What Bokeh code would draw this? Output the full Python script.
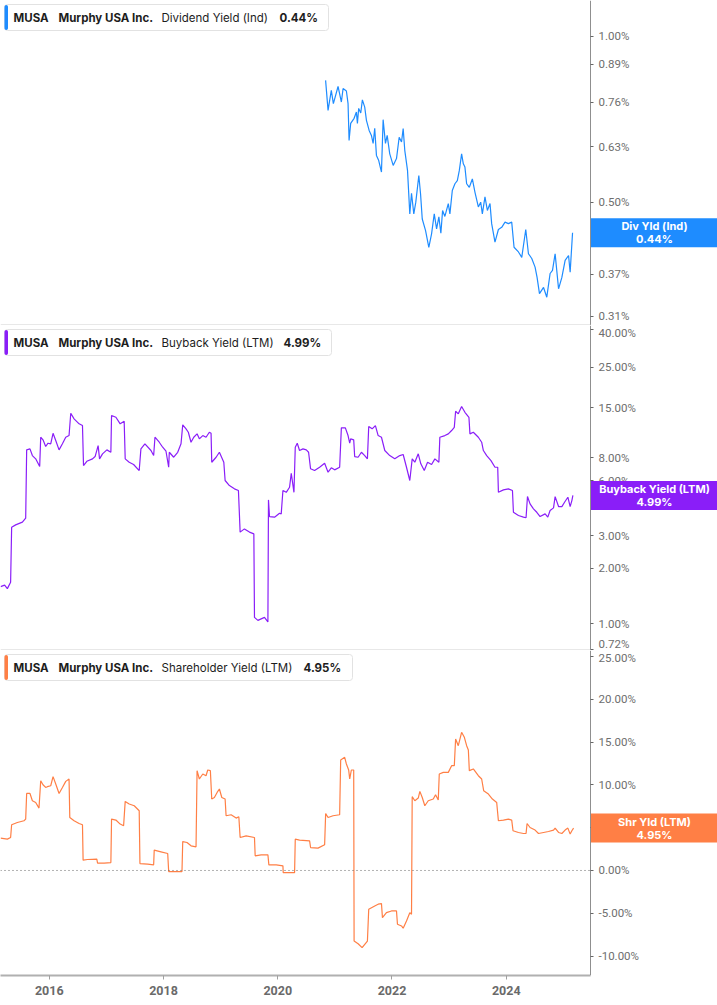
import math
from bokeh.plotting import figure
from bokeh.models import (Range1d, LinearScale, FixedTicker, PrintfTickFormatter,
                          BoxAnnotation, Label, ColumnDataSource)
from bokeh.layouts import column
from bokeh.embed import file_html
from bokeh.resources import INLINE

# ---------------- data (decimal years, percent) ----------------
div_t = [2020.838, 2020.881, 2020.938, 2020.974, 2021.056, 2021.114, 2021.144, 2021.202, 2021.231, 2021.249,
         2021.277, 2021.337, 2021.377, 2021.395, 2021.417, 2021.453, 2021.482, 2021.523, 2021.553, 2021.600,
         2021.640, 2021.670, 2021.698, 2021.728, 2021.768, 2021.816, 2021.845, 2021.886, 2021.916, 2021.961,
         2022.021, 2022.079, 2022.126, 2022.167, 2022.196, 2022.224, 2022.272, 2022.312, 2022.342, 2022.382,
         2022.417, 2022.470, 2022.500, 2022.530, 2022.588, 2022.645, 2022.693, 2022.740, 2022.781, 2022.821,
         2022.856, 2022.886, 2022.926, 2022.986, 2023.014, 2023.056, 2023.102, 2023.144, 2023.179, 2023.219,
         2023.249, 2023.277, 2023.307, 2023.354, 2023.407, 2023.453, 2023.512, 2023.553, 2023.582, 2023.628,
         2023.670, 2023.716, 2023.745, 2023.803, 2023.863, 2023.921, 2023.979, 2024.038, 2024.096, 2024.137,
         2024.214, 2024.272, 2024.342, 2024.389, 2024.447, 2024.505, 2024.540, 2024.582, 2024.653, 2024.710,
         2024.768, 2024.810, 2024.856, 2024.916, 2024.974, 2025.031, 2025.091, 2025.119, 2025.161]
div_v = [0.832, 0.734, 0.798, 0.755, 0.811, 0.760, 0.804, 0.796, 0.755, 0.647,
         0.695, 0.710, 0.729, 0.695, 0.740, 0.726, 0.767, 0.744, 0.704, 0.675,
         0.661, 0.639, 0.681, 0.608, 0.595, 0.567, 0.706, 0.639, 0.661, 0.612,
         0.583, 0.600, 0.656, 0.643, 0.680, 0.621, 0.571, 0.476, 0.519, 0.476,
         0.500, 0.559, 0.518, 0.466, 0.444, 0.414, 0.438, 0.476, 0.447, 0.470,
         0.439, 0.483, 0.471, 0.497, 0.476, 0.525, 0.540, 0.547, 0.571, 0.612,
         0.587, 0.579, 0.540, 0.532, 0.551, 0.521, 0.490, 0.500, 0.476, 0.511,
         0.483, 0.497, 0.457, 0.423, 0.446, 0.450, 0.460, 0.457, 0.460, 0.414,
         0.406, 0.397, 0.446, 0.403, 0.395, 0.381, 0.365, 0.341, 0.350, 0.336,
         0.371, 0.376, 0.403, 0.348, 0.365, 0.392, 0.400, 0.373, 0.440]

bb_t = [2015.149, 2015.219, 2015.267, 2015.324, 2015.342, 2015.412, 2015.530, 2015.588, 2015.605, 2015.663,
        2015.705, 2015.763, 2015.833, 2015.851, 2015.891, 2015.938, 2015.979, 2016.026, 2016.067, 2016.114,
        2016.172, 2016.231, 2016.289, 2016.347, 2016.377, 2016.435, 2016.523, 2016.582, 2016.600, 2016.658,
        2016.758, 2016.803, 2016.856, 2016.881, 2016.933, 2017.009, 2017.079, 2017.091, 2017.167, 2017.242,
        2017.312, 2017.330, 2017.400, 2017.477, 2017.575, 2017.605, 2017.675, 2017.781, 2017.828, 2017.851,
        2017.926, 2017.986, 2018.044, 2018.091, 2018.102, 2018.179, 2018.249, 2018.307, 2018.337, 2018.395,
        2018.435, 2018.482, 2018.530, 2018.588, 2018.628, 2018.688, 2018.745, 2018.803, 2018.833, 2018.845,
        2018.921, 2018.979, 2019.056, 2019.079, 2019.154, 2019.242, 2019.312, 2019.342, 2019.417, 2019.505,
        2019.582, 2019.593, 2019.653, 2019.768, 2019.828, 2019.838, 2019.856, 2019.944, 2020.032, 2020.061,
        2020.091, 2020.149, 2020.207, 2020.237, 2020.284, 2020.307, 2020.342, 2020.382, 2020.442, 2020.500,
        2020.540, 2020.575, 2020.645, 2020.733, 2020.821, 2020.881, 2020.938, 2020.996, 2021.084, 2021.114,
        2021.184, 2021.231, 2021.260, 2021.277, 2021.330, 2021.347, 2021.407, 2021.465, 2021.523, 2021.570,
        2021.593, 2021.653, 2021.710, 2021.758, 2021.816, 2021.874, 2021.961, 2022.049, 2022.137, 2022.196,
        2022.254, 2022.312, 2022.354, 2022.400, 2022.460, 2022.505, 2022.565, 2022.623, 2022.693, 2022.751,
        2022.821, 2022.838, 2022.926, 2022.986, 2023.044, 2023.091, 2023.114, 2023.161, 2023.219, 2023.277,
        2023.347, 2023.365, 2023.424, 2023.512, 2023.570, 2023.600, 2023.658, 2023.733, 2023.803, 2023.851,
        2023.863, 2023.951, 2024.038, 2024.109, 2024.126, 2024.214, 2024.302, 2024.347, 2024.372, 2024.417,
        2024.477, 2024.535, 2024.593, 2024.681, 2024.728, 2024.768, 2024.828, 2024.856, 2024.916, 2024.974,
        2025.021, 2025.079, 2025.119, 2025.149, 2025.167]
bb_v = [1.59, 1.62, 1.55, 1.68, 3.35, 3.45, 3.57, 3.75, 8.84, 8.95,
        8.23, 7.90, 7.17, 10.36, 10.03, 9.22, 9.61, 9.54, 10.89, 9.94,
        8.84, 9.54, 10.36, 10.58, 14.00, 13.05, 12.26, 11.99, 7.26, 7.66,
        7.90, 8.13, 9.33, 7.90, 8.41, 8.84, 8.58, 13.60, 13.31, 12.26,
        12.66, 7.90, 7.57, 7.36, 6.82, 8.95, 9.54, 8.77, 8.23, 10.36,
        9.73, 9.14, 8.69, 7.11, 8.58, 8.06, 8.58, 9.54, 12.10, 11.51,
        11.03, 9.73, 10.36, 10.81, 10.15, 10.58, 10.36, 11.03, 10.89, 7.57,
        8.06, 8.58, 7.57, 6.02, 5.65, 5.42, 5.31, 3.15, 3.28, 3.15,
        3.08, 1.08, 1.04, 1.08, 1.02, 4.72, 3.83, 3.80, 3.99, 3.96,
        5.31, 5.19, 5.53, 6.59, 5.19, 9.14, 9.61, 8.77, 8.95, 8.84,
        8.58, 6.97, 6.82, 7.11, 7.47, 6.68, 7.06, 6.88, 7.11, 11.65,
        11.65, 10.58, 9.61, 10.15, 10.03, 8.13, 8.06, 8.58, 8.23, 7.90,
        11.85, 11.51, 11.99, 10.58, 10.36, 8.77, 8.23, 7.90, 8.23, 8.34,
        7.11, 6.02, 7.90, 7.57, 8.41, 7.42, 6.82, 7.57, 7.36, 7.90,
        7.57, 10.36, 10.58, 10.81, 11.27, 11.74, 14.35, 13.89, 15.23, 14.17,
        13.31, 10.81, 11.03, 10.36, 9.73, 8.77, 8.23, 7.73, 7.11, 7.11,
        5.19, 5.35, 5.42, 5.31, 4.04, 3.88, 3.80, 3.77, 4.92, 4.49,
        4.22, 4.04, 3.83, 3.96, 3.80, 4.13, 4.27, 4.92, 4.34, 4.34,
        4.58, 4.88, 4.34, 4.68, 4.99]

sy_t = [2015.149, 2015.267, 2015.324, 2015.342, 2015.442, 2015.558, 2015.588, 2015.605, 2015.663, 2015.705,
        2015.763, 2015.821, 2015.851, 2015.891, 2015.938, 2015.968, 2016.026, 2016.067, 2016.114, 2016.172,
        2016.231, 2016.289, 2016.347, 2016.360, 2016.435, 2016.523, 2016.582, 2016.593, 2016.670, 2016.833,
        2016.846, 2016.961, 2017.079, 2017.091, 2017.167, 2017.242, 2017.302, 2017.330, 2017.400, 2017.488,
        2017.575, 2017.588, 2017.723, 2017.828, 2017.838, 2017.956, 2018.074, 2018.091, 2018.189, 2018.324,
        2018.337, 2018.412, 2018.482, 2018.570, 2018.588, 2018.628, 2018.688, 2018.745, 2018.775, 2018.821,
        2018.845, 2018.891, 2018.939, 2018.979, 2019.021, 2019.079, 2019.096, 2019.184, 2019.272, 2019.319,
        2019.342, 2019.447, 2019.593, 2019.605, 2019.710, 2019.828, 2019.845, 2019.974, 2020.091, 2020.096,
        2020.207, 2020.295, 2020.307, 2020.382, 2020.558, 2020.575, 2020.705, 2020.821, 2020.839, 2020.881,
        2020.968, 2021.084, 2021.102, 2021.172, 2021.202, 2021.242, 2021.260, 2021.289, 2021.330, 2021.337,
        2021.407, 2021.477, 2021.570, 2021.593, 2021.698, 2021.758, 2021.816, 2021.833, 2021.903, 2021.991,
        2022.079, 2022.096, 2022.167, 2022.196, 2022.254, 2022.312, 2022.342, 2022.354, 2022.400, 2022.460,
        2022.488, 2022.530, 2022.575, 2022.635, 2022.723, 2022.763, 2022.810, 2022.828, 2022.898, 2022.986,
        2023.044, 2023.091, 2023.114, 2023.161, 2023.219, 2023.267, 2023.307, 2023.337, 2023.354, 2023.424,
        2023.512, 2023.570, 2023.605, 2023.688, 2023.758, 2023.833, 2023.863, 2023.951, 2024.038, 2024.096,
        2024.119, 2024.214, 2024.302, 2024.347, 2024.365, 2024.417, 2024.505, 2024.565, 2024.653, 2024.740,
        2024.828, 2024.856, 2024.916, 2024.974, 2025.031, 2025.079, 2025.119, 2025.149, 2025.179]
sy_v = [3.78, 3.66, 3.85, 5.34, 5.61, 5.81, 6.00, 9.00, 9.00, 8.15,
        7.95, 7.29, 10.49, 10.02, 9.70, 9.79, 9.90, 10.96, 10.10, 9.00,
        9.70, 10.41, 10.69, 6.19, 5.81, 5.49, 5.34, 1.21, 1.28, 1.32,
        0.85, 0.85, 0.92, 6.00, 5.89, 5.42, 5.22, 8.07, 7.76, 7.56,
        6.98, 0.81, 0.74, 0.66, 2.38, 2.18, 1.98, -0.13, -0.13, -0.13,
        3.38, 3.27, 2.88, 2.76, 11.66, 10.69, 11.27, 11.07, 11.74, 11.66,
        8.35, 8.53, 9.12, 9.52, 8.53, 8.35, 6.39, 6.51, 6.12, 6.27,
        3.85, 4.05, 3.85, 1.71, 1.83, 1.83, 0.66, 0.66, 0.54, -0.25,
        -0.25, -0.25, 3.66, 3.55, 3.46, 2.68, 2.61, 3.00, 6.66, 6.19,
        6.39, 6.51, 12.91, 13.22, 12.44, 11.74, 10.69, 11.74, 11.74, -8.24,
        -8.56, -9.02, -8.24, -4.53, -4.14, -3.94, -3.87, -5.51, -4.93, -4.73,
        -4.73, -6.29, -6.48, -6.75, -5.90, -4.93, -5.12, 8.62, 8.15, 8.46,
        9.24, 8.53, 7.56, 8.15, 8.35, 8.85, 8.23, 11.27, 11.46, 11.46,
        12.24, 12.24, 15.37, 14.58, 16.14, 15.56, 14.58, 14.08, 11.66, 11.86,
        11.07, 10.69, 9.32, 8.93, 8.35, 7.95, 5.81, 5.89, 6.00, 5.89,
        4.64, 4.44, 4.32, 4.32, 5.49, 5.02, 4.72, 4.32, 4.44, 4.55,
        4.72, 4.95, 4.44, 4.32, 4.72, 4.95, 4.25, 4.64, 4.95]

div_ticks = [0.31, 0.37, 0.50, 0.63, 0.76, 0.89, 1.00]
bb_ticks = [0.72, 1.0, 2.0, 3.0, 6.0, 8.0, 15.0, 25.0, 40.0]
sy_ticks = [-10, -5, 0, 5, 10, 15, 20, 25]
year_ticks = [2016, 2018, 2020, 2022, 2024]

ticker_name = "MUSA"
company = "Murphy USA Inc."
panels = [
    dict(metric="Dividend Yield (Ind)", last="0.44%", badge1="Div Yld (Ind)", badge2="0.44%",
         color="#1e8cff", t=div_t, v=div_v, ticks=div_ticks, kind="log", yr=(0.2985, 1.162),
         val_x=279, box_r=328),
    dict(metric="Buyback Yield (LTM)", last="4.99%", badge1="Buyback Yield (LTM)", badge2="4.99%",
         color="#8a1ef8", t=bb_t, v=bb_v, ticks=bb_ticks, kind="log", yr=(0.713, 42.1),
         val_x=283, box_r=331),
    dict(metric="Shareholder Yield (LTM)", last="4.95%", badge1="Shr Yld (LTM)", badge2="4.95%",
         color="#ff7f45", t=sy_t, v=sy_v, ticks=sy_ticks, kind="linear", yr=(-12.27, 25.7),
         val_x=303, box_r=352),
]

# ---------------- layout constants ----------------
FRAME_W = 717          # full page width is the plotting frame
DATA_W = 590           # the value axis sits here
PANEL_H = 325
AXIS_H = 30
PX_PER_YEAR = 57.125
X0 = 2015.147
X_AXIS = X0 + DATA_W / PX_PER_YEAR
X_END = X0 + FRAME_W / PX_PER_YEAR
HDR_FONT = "Inter"
AX_FONT = "Roboto"

xr = Range1d(X0, X_END)
figs = []
for i, pn in enumerate(panels):
    last_panel = (i == len(panels) - 1)
    p = figure(frame_width=FRAME_W, frame_height=PANEL_H, x_range=xr,
               y_range=Range1d(*pn["yr"]), y_axis_type=pn["kind"],
               y_axis_location="right", x_axis_location="below" if last_panel else None,
               output_backend="svg", toolbar_location=None,
               min_border_left=0, min_border_right=0, min_border_top=0,
               min_border_bottom=AXIS_H if last_panel else 0)
    p.outline_line_color = None
    p.xgrid.visible = False
    p.ygrid.visible = False
    p.background_fill_color = "white"
    p.border_fill_color = "white"

    # pixel helper ranges (origin at top-left of the frame)
    p.extra_x_ranges = {"px": Range1d(0, FRAME_W)}
    p.extra_y_ranges = {"py": Range1d(PANEL_H, 0)}
    p.extra_x_scales = {"px": LinearScale()}
    p.extra_y_scales = {"py": LinearScale()}

    src = ColumnDataSource(dict(t=pn["t"], v=pn["v"]))
    p.line("t", "v", source=src, line_color=pn["color"], line_width=1.2)

    ax = p.yaxis[0]
    ax.fixed_location = X_AXIS
    ax.ticker = FixedTicker(ticks=pn["ticks"])
    ax.formatter = PrintfTickFormatter(format="%.2f%%")
    ax.axis_line_color = "#8f8f8f"
    ax.axis_line_width = 1
    ax.major_tick_line_color = "#666666"
    ax.major_tick_out = 3
    ax.major_tick_in = 0
    ax.minor_tick_line_color = None
    ax.major_label_text_font = AX_FONT
    ax.major_label_text_font_size = "11.5px"
    ax.major_label_text_color = "#6e6e6e"
    ax.major_label_standoff = 5

    if last_panel:
        xa = p.xaxis[0]
        xa.bounds = (X0, X_AXIS)
        xa.ticker = FixedTicker(ticks=year_ticks)
        xa.formatter = PrintfTickFormatter(format="%d")
        xa.axis_line_color = "#b0b0b0"
        xa.axis_line_width = 2
        xa.major_tick_line_color = "#a0a0a0"
        xa.major_tick_out = 4
        xa.major_tick_in = 0
        xa.minor_tick_line_color = None
        xa.major_label_text_font = AX_FONT
        xa.major_label_text_font_style = "bold"
        xa.major_label_text_font_size = "12.5px"
        xa.major_label_text_color = "#6a6a6a"
        xa.major_label_standoff = 6
        # dotted zero reference line across the data area
        p.segment(x0=[X0], x1=[X_AXIS], y0=[0], y1=[0], line_color="#666666",
                  line_dash="1 3", line_width=1)
    else:
        # thin separator under the panel (data area only)
        p.add_layout(BoxAnnotation(left=0, right=DATA_W, top=PANEL_H - 1, bottom=PANEL_H,
                                   x_range_name="px", y_range_name="py",
                                   fill_color="#d2d2d2", fill_alpha=1, line_color=None))

    # header box
    p.add_layout(BoxAnnotation(left=4, right=pn["box_r"], top=4, bottom=30,
                               x_range_name="px", y_range_name="py",
                               fill_color="white", fill_alpha=1, line_color="#e2e2e2",
                               line_alpha=1, line_width=1, border_radius=3))
    p.add_layout(BoxAnnotation(left=4, right=7.5, top=4.5, bottom=29.5,
                               x_range_name="px", y_range_name="py",
                               fill_color=pn["color"], fill_alpha=1, line_color=None,
                               border_radius=2))
    hdr = [(13, ticker_name, "bold"), (58, company, "bold"), (161, pn["metric"], "normal"),
           (pn["val_x"], pn["last"], "bold")]
    for hx, txt, style in hdr:
        p.add_layout(Label(x=hx, y=17, x_range_name="px", y_range_name="py", text=txt,
                           text_font=HDR_FONT, text_font_style=style, text_font_size="11.5px",
                           text_color="#1d1d1d", text_baseline="middle", text_align="left"))

    # value badge on the right axis
    last_v = pn["v"][-1]
    y0, y1 = pn["yr"]
    half = 14.5
    if pn["kind"] == "log":
        f = 10 ** (half * math.log10(y1 / y0) / PANEL_H)
        b_top, b_bot = last_v * f, last_v / f
    else:
        d = half * (y1 - y0) / PANEL_H
        b_top, b_bot = last_v + d, last_v - d
    p.add_layout(BoxAnnotation(left=DATA_W + 0.5, right=FRAME_W, top=b_top, bottom=b_bot,
                               x_range_name="px", fill_color=pn["color"], fill_alpha=1,
                               line_color=None))
    cx = (DATA_W + FRAME_W) / 2 + 0.5
    p.add_layout(Label(x=cx, y=last_v, x_range_name="px", y_offset=6.5, text=pn["badge1"],
                       text_font=HDR_FONT, text_font_style="bold", text_font_size="11px",
                       text_color="white", text_align="center", text_baseline="middle"))
    p.add_layout(Label(x=cx, y=last_v, x_range_name="px", y_offset=-6.5, text=pn["badge2"],
                       text_font=HDR_FONT, text_font_style="bold", text_font_size="11px",
                       text_color="white", text_align="center", text_baseline="middle"))
    figs.append(p)

layout = column(*figs, spacing=0)
open("out.html", "w").write(file_html(layout, INLINE))
